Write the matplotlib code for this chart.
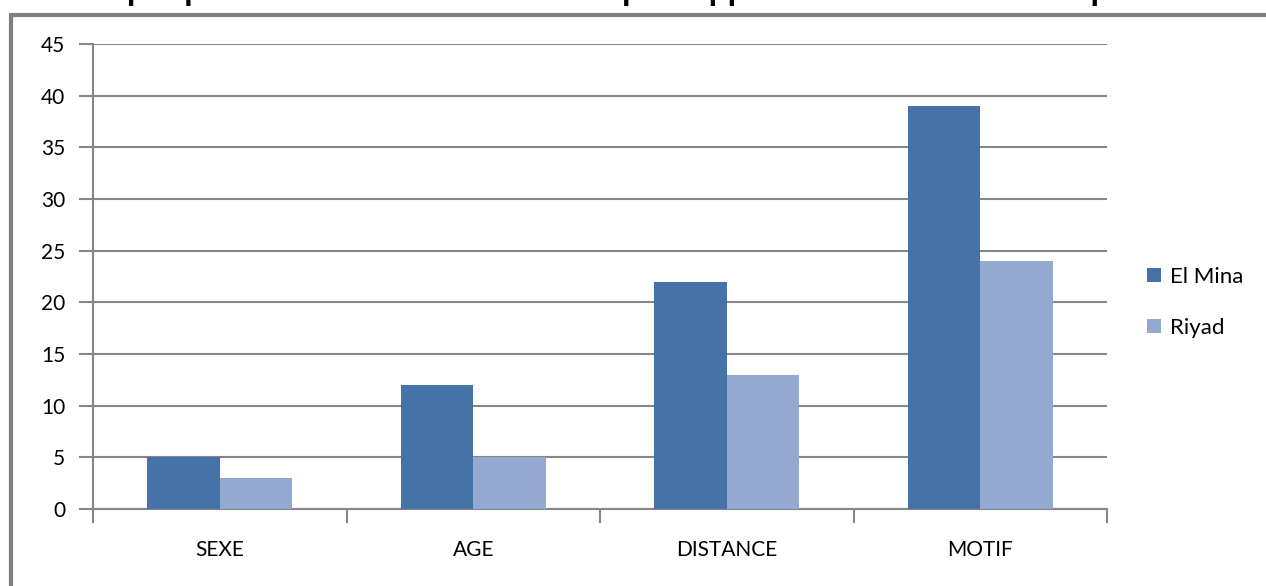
import matplotlib.pyplot as plt
import numpy as np
from matplotlib.patches import Rectangle

# données
categories = ["SEXE", "AGE", "DISTANCE", "MOTIF"]
el_mina = [5, 12, 22, 39]
riyad = [3, 5, 13, 24]
series_names = ["El Mina", "Riyad"]
title = "Graphique n°7: Critères de sélection par rapport aux modes de transports"

plt.rcParams['font.family'] = ['Lato', 'DejaVu Sans']

fig = plt.figure(figsize=(12.66, 5.86), dpi=100)
ax = fig.add_axes([93 / 1266, 77 / 586, 1014 / 1266, 465 / 586])

x = np.arange(len(categories))
w = 0.286
grid_col = "#868686"

ax.bar(x - w / 2, el_mina, w, color="#4572A7", label=series_names[0], zorder=3)
ax.bar(x + w / 2, riyad, w, color="#94A9CF", label=series_names[1], zorder=3)

ax.set_xlim(-0.5, len(categories) - 0.5)
ax.set_ylim(0, 45)
ax.set_yticks(range(0, 46, 5))
ax.set_xticks(x)
ax.set_xticklabels(categories, fontsize=15)
ax.tick_params(axis='x', length=0, pad=22)
ax.tick_params(axis='y', length=10, width=1.5, color=grid_col, labelsize=15, pad=10)

# petits traits entre les catégories
ax.set_xticks(np.arange(-0.5, len(categories) + 0.5, 1), minor=True)
ax.tick_params(axis='x', which='minor', length=10, width=1.5, color=grid_col)

ax.grid(axis='y', color=grid_col, linewidth=1.5, zorder=0)
for side in ["top", "right"]:
    ax.spines[side].set_visible(False)
ax.spines["left"].set_color(grid_col)
ax.spines["left"].set_linewidth(1.5)
ax.spines["bottom"].set_color(grid_col)
ax.spines["bottom"].set_linewidth(1.5)

ax.legend(loc="center left", bbox_to_anchor=(1.02, 0.445), frameon=False,
          fontsize=16, handlelength=0.6, handleheight=0.6, labelspacing=1.4,
          handletextpad=0.4)

# cadre extérieur
fig.patches.append(Rectangle((11 / 1266, -0.1), 1.2, 1.1 - 15 / 586,
                             transform=fig.transFigure, fill=False,
                             edgecolor="#7F7F7F", linewidth=3))

# titre coupé en haut de l'image
fig.text(0.49, 1 + 1 / 586, title, ha="center", va="baseline",
         fontsize=22.5, fontweight="bold", family=['Liberation Sans', 'DejaVu Sans'])

fig.savefig("out.png", dpi=100)
